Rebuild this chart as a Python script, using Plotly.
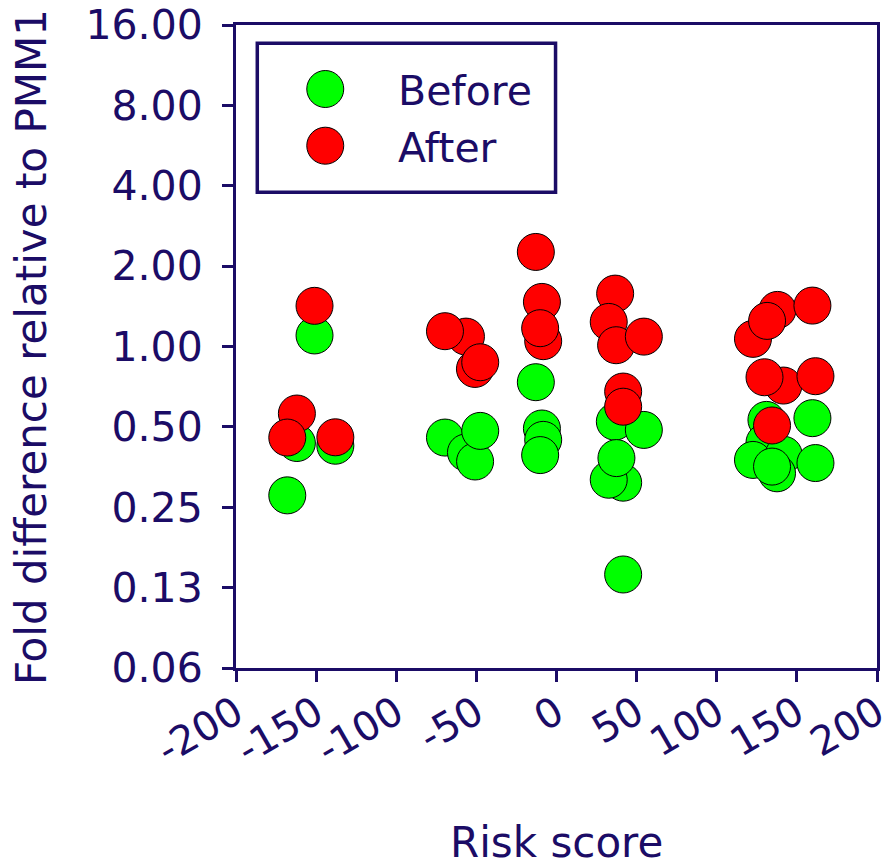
import plotly.graph_objects as go

NAVY = "#1b0c66"
FONT = "DejaVu Sans, Verdana, sans-serif"

# ---- data ----
series_names = ["Before", "After"]
series_colors = ["#00ff00", "#ff0000"]

before_x = [-151, -162, -138, -168,
            -69.6, -56.5, -50.8, -47.6,
            -12.9, -9.1, -8.3, -10.2,
            36.4, 54.5, 41.6, 32.6, 37.4, 41.6,
            131.0, 159.7, 129.8, 122.6, 141.8, 137.6, 134.5, 161.6]
before_y = [1.10, 0.435, 0.425, 0.277,
            0.456, 0.401, 0.371, 0.483,
            0.735, 0.493, 0.447, 0.392,
            0.523, 0.487, 0.309, 0.317, 0.382, 0.140,
            0.531, 0.539, 0.437, 0.376, 0.393, 0.335, 0.355, 0.366]

after_x = [-151, -162, -168, -138,
           -56.5, -69.6, -50.9, -47.6,
           -12.9, -9.1, -8.3, -10.2,
           36.6, 32.6, 37.2, 54.5, 41.6, 41.6,
           137.9, 122.6, 131.4, 159.7, 141.6, 129.8, 161.6, 134.5]
after_y = [1.42, 0.561, 0.456, 0.457,
           1.089, 1.141, 0.824, 0.873,
           2.26, 1.469, 1.047, 1.171,
           1.578, 1.236, 1.011, 1.089, 0.678, 0.595,
           1.371, 1.068, 1.247, 1.423, 0.714, 0.767, 0.774, 0.506]

x_tickvals = [-200, -150, -100, -50, 0, 50, 100, 150, 200]
x_ticktext = ["-200", "-150", "-100", "-50", "0", "50", "100", "150", "200"]
y_tickvals = [0.0625, 0.125, 0.25, 0.5, 1, 2, 4, 8, 16]
y_ticktext = ["0.06", "0.13", "0.25", "0.50", "1.00", "2.00", "4.00", "8.00", "16.00"]

x_title = "Risk score"
y_title = "Fold difference relative to PMM1"

fig = go.Figure()
for name, color, xs, ys in [(series_names[0], series_colors[0], before_x, before_y),
                            (series_names[1], series_colors[1], after_x, after_y)]:
    fig.add_trace(go.Scatter(
        x=xs, y=ys, mode="markers", name=name, showlegend=False,
        marker=dict(size=37, color=color, line=dict(color="black", width=1)),
        cliponaxis=False,
    ))

axis_common = dict(
    showgrid=False, zeroline=False, showline=True, linecolor=NAVY, linewidth=3,
    mirror=True, ticks="outside", ticklen=11, tickwidth=3, tickcolor=NAVY,
    automargin=False, ticklabeloverflow="allow",
)

fig.update_xaxes(range=[-200, 200], tickvals=x_tickvals, ticktext=x_ticktext,
                 tickangle=-30, ticklabelstandoff=-8,
                 tickfont=dict(family=FONT, size=40, color=NAVY), **axis_common)
fig.update_yaxes(type="log", range=[-1.20412, 1.20412], tickvals=y_tickvals,
                 ticktext=y_ticktext, ticklabelstandoff=11,
                 tickfont=dict(family=FONT, size=41, color=NAVY), **axis_common)

# ---- manual legend (large markers like the reference) ----
PW, PH = 641.3, 643.0
def px2paper(px, py):
    return (px - 236) / PW, (668 - py) / PH

shapes = []
x0, y1 = px2paper(257.3, 43.3)
x1, y0 = px2paper(555.7, 192.3)
shapes.append(dict(type="rect", xref="paper", yref="paper", x0=x0, x1=x1, y0=y0, y1=y1,
                   line=dict(color=NAVY, width=3.5), fillcolor="white", layer="above"))
annotations = []
for i, (name, color) in enumerate(zip(series_names, series_colors)):
    cy = 89 + i * 56.7
    cx = 325.3
    r = 18.5
    ax0, ay1 = px2paper(cx - r, cy - r)
    ax1, ay0 = px2paper(cx + r, cy + r)
    shapes.append(dict(type="circle", xref="paper", yref="paper", x0=ax0, x1=ax1, y0=ay0, y1=ay1,
                       fillcolor=color, line=dict(color="black", width=1), layer="above"))
    tx, ty = px2paper(396, cy + 2)
    annotations.append(dict(text=name, xref="paper", yref="paper", x=tx, y=ty,
                            xanchor="left", yanchor="middle", showarrow=False,
                            font=dict(family=FONT, size=41, color=NAVY)))

# axis titles
tx, ty = px2paper(557, 842)
annotations.append(dict(text=x_title, xref="paper", yref="paper", x=tx, y=ty,
                        xanchor="center", yanchor="middle", showarrow=False,
                        font=dict(family=FONT, size=42, color=NAVY)))
tx, ty = px2paper(31, 347)
annotations.append(dict(text=y_title, xref="paper", yref="paper", x=tx, y=ty,
                        xanchor="center", yanchor="middle", showarrow=False, textangle=-90,
                        font=dict(family=FONT, size=42, color=NAVY)))

fig.update_layout(
    width=888, height=866,
    margin=dict(l=236, r=11, t=25, b=198, autoexpand=False),
    paper_bgcolor="white", plot_bgcolor="white",
    shapes=shapes, annotations=annotations,
    showlegend=False,
    font=dict(family=FONT, color=NAVY),
)

fig.write_html("out.html")
